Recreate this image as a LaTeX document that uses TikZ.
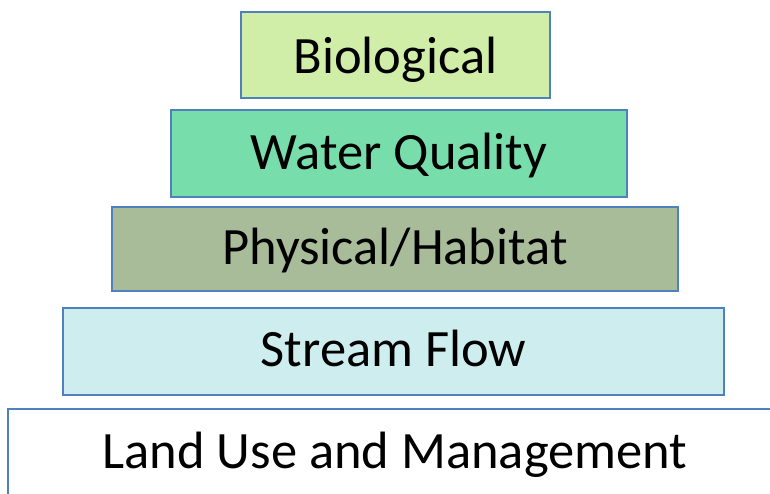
\documentclass[tikz,border=0pt]{standalone}
\usepackage{fontspec}
\setmainfont{Carlito}
\definecolor{tierline}{HTML}{4F81BD}
\definecolor{bioFill}{HTML}{D0EEA8}
\definecolor{wqFill}{HTML}{77DDAA}
\definecolor{physFill}{HTML}{A9BC9A}
\definecolor{flowFill}{HTML}{CDEDEF}
\begin{document}
\begin{tikzpicture}[x=1pt,y=-1pt]
			\useasboundingbox (0,0) rectangle (770,493);
			\begin{scope}[every node/.style={rectangle,draw=tierline,line width=1.3pt,inner sep=0pt,text height=41pt,text depth=10pt,font=\fontsize{52.5}{60}\selectfont}]
				\node[fill=bioFill,minimum width=309pt,minimum height=86pt,text height=46pt] (bio) at (395.5,55) {Biological};
				\node[fill=wqFill,minimum width=456pt,minimum height=87pt] (wq) at (399,153.5) {Water Quality};
				\node[fill=physFill,minimum width=566pt,minimum height=84pt] (phys) at (395,249) {Physical/Habitat};
				\node[fill=flowFill,minimum width=661pt,minimum height=87pt,text height=40pt] (flow) at (393.5,351.5) {Stream Flow};
				\node[fill=white,minimum width=774pt,minimum height=92pt,text height=37pt] (land) at (395,455) {Land Use and Management};
			\end{scope}
		\end{tikzpicture}
\end{document}
